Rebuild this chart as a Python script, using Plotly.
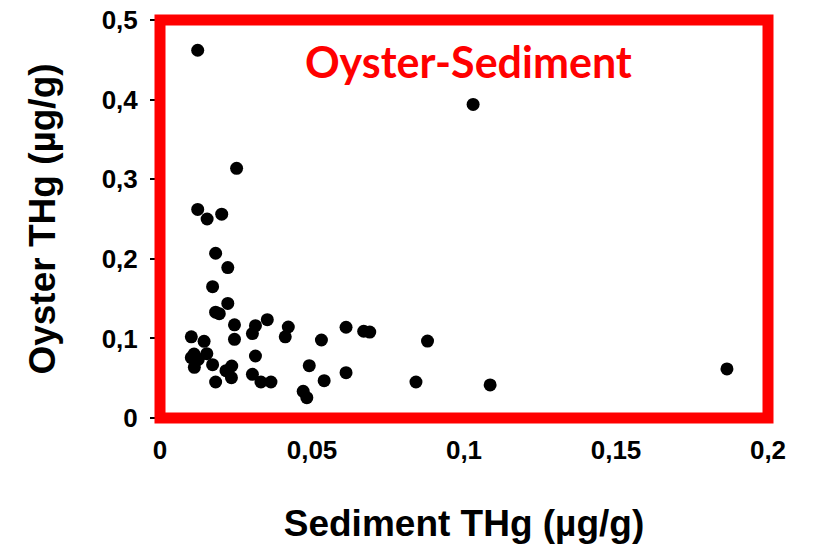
import plotly.graph_objects as go

sediment_thg = [
    0.0124, 0.0155, 0.0203, 0.0183, 0.0223, 0.0173, 0.0223, 0.0183, 0.0195,
    0.0245, 0.0314, 0.0353, 0.0422, 0.0304, 0.0412, 0.0103, 0.0145, 0.0245,
    0.0531, 0.0612, 0.0670, 0.0690, 0.0112, 0.0103, 0.0154, 0.0126, 0.0113,
    0.0173, 0.0314, 0.0236, 0.0217, 0.0235, 0.0183, 0.0304, 0.0332, 0.0365,
    0.0491, 0.0540, 0.0612, 0.0471, 0.0483,
    0.0124, 0.0252, 0.1030, 0.0842, 0.0880, 0.1086, 0.1865,
]
oyster_thg = [
    0.262, 0.250, 0.256, 0.207, 0.189, 0.165, 0.144, 0.133, 0.131,
    0.117, 0.116, 0.1235, 0.1143, 0.106, 0.102, 0.102, 0.0963, 0.0988,
    0.098, 0.114, 0.109, 0.108, 0.0804, 0.0758, 0.0808, 0.0737, 0.0637,
    0.067, 0.0779, 0.0653, 0.0595, 0.0507, 0.0452, 0.0549, 0.0452, 0.0452,
    0.0657, 0.0469, 0.0569, 0.0335, 0.0255,
    0.462, 0.3137, 0.394, 0.0452, 0.0967, 0.0415, 0.0616,
]

x_ticks = [0, 0.05, 0.1, 0.15, 0.2]
x_tick_labels = ["0", "0,05", "0,1", "0,15", "0,2"]
y_ticks = [0, 0.1, 0.2, 0.3, 0.4, 0.5]
y_tick_labels = ["0", "0,1", "0,2", "0,3", "0,4", "0,5"]

fig = go.Figure()
fig.add_trace(go.Scatter(
    x=sediment_thg, y=oyster_thg, mode="markers",
    marker=dict(color="black", size=13, line=dict(width=0)),
    showlegend=False,
))

tick_font = dict(family="Liberation Sans, Arial", size=26, color="black", weight="bold")
title_font = dict(family="Liberation Sans, Arial", size=37, color="black", weight="bold")

fig.update_layout(
    width=817, height=550,
    margin=dict(l=160, r=49, t=20, b=132),
    paper_bgcolor="white", plot_bgcolor="white",
    xaxis=dict(
        range=[0, 0.2], tickvals=x_ticks, ticktext=x_tick_labels,
        showgrid=False, zeroline=False, showline=False, ticks="",
        tickfont=tick_font, ticklabelstandoff=14, automargin=False,
        ticklabeloverflow="allow",
        title=dict(text="Sediment THg (µg/g)", font=title_font, standoff=46),
    ),
    yaxis=dict(
        range=[0, 0.5], tickvals=y_ticks, ticktext=y_tick_labels,
        showgrid=False, zeroline=False, showline=False,
        ticks="outside", ticklen=9, tickwidth=2, tickcolor="black",
        tickfont=tick_font, ticklabelstandoff=7, automargin=False,
        ticklabeloverflow="allow",
        title=dict(text="Oyster THg (µg/g)", font=title_font, standoff=34),
    ),
    shapes=[dict(
        type="rect", xref="paper", yref="paper", x0=0, x1=1, y0=0, y1=1,
        line=dict(color="#ff0000", width=11), fillcolor="rgba(0,0,0,0)",
    )],
    annotations=[dict(
        text="<b>Oyster-Sediment</b>", xref="paper", yref="paper",
        x=0.508, y=0.965, showarrow=False,
        font=dict(family="Lato, Open Sans", size=43, color="#ff0000"),
    )],
)

fig.write_html(
    "out.html",
    config={"displayModeBar": False},
    post_script="document.body.style.margin='0';document.body.style.overflow='hidden';",
)
